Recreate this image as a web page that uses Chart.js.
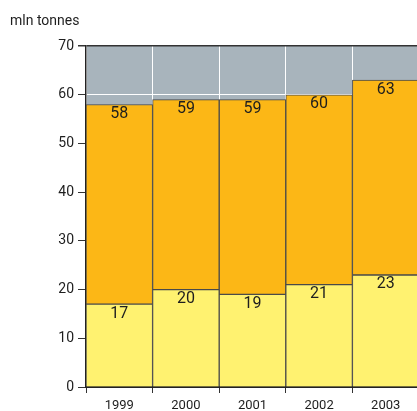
<!DOCTYPE html>
<html>
<head>
<meta charset="utf-8">
<script src="https://cdn.jsdelivr.net/npm/chart.js@4/dist/chart.umd.min.js"></script>
<style>
  html, body { margin: 0; padding: 0; background: #fff; overflow: hidden; }
  #wrap { position: relative; width: 420px; height: 411px; }
</style>
</head>
<body>
<div id="wrap"><canvas id="c" width="420" height="411"></canvas></div>
<script>
// Production, million tonnes
const years = ['1999', '2000', '2001', '2002', '2003'];
const lowerPart = [17, 20, 19, 21, 23];   // lower segment (yellow)
const totals = [58, 59, 59, 60, 63];      // stack total (top of orange segment)
const yTicks = [0, 10, 20, 30, 40, 50, 60, 70];
const unitLabel = 'mln tonnes';

const FONT = 'Roboto, "Open Sans", sans-serif';
const INK = '#1e1e1e';
const EDGE = '#4a4a4a';

// grey plot background
const plotBg = {
  id: 'plotBg',
  beforeDraw(chart) {
    const { ctx, chartArea: a } = chart;
    ctx.save();
    ctx.fillStyle = '#a8b4bc';
    ctx.fillRect(a.left, a.top, a.right - a.left, a.bottom - a.top);
    ctx.restore();
  }
};

// unit caption + value labels just inside the top of each segment
const labels = {
  id: 'labels',
  afterDatasetsDraw(chart) {
    const { ctx } = chart;
    ctx.save();
    ctx.fillStyle = INK;
    ctx.textAlign = 'center';
    ctx.textBaseline = 'alphabetic';
    ctx.font = '16px ' + FONT;
    const sets = [lowerPart, totals];
    sets.forEach((vals, di) => {
      chart.getDatasetMeta(di).data.forEach((bar, i) => {
        ctx.fillText(String(vals[i]), bar.x, bar.y + 13.5);
      });
    });
    ctx.textAlign = 'left';
    ctx.font = '14px ' + FONT;
    ctx.fillText(unitLabel, 10, 25);
    ctx.restore();
  }
};

new Chart(document.getElementById('c'), {
  type: 'bar',
  data: {
    labels: years,
    datasets: [
      {
        data: lowerPart,
        backgroundColor: '#fff270',
        borderColor: EDGE,
        borderWidth: 1,
        borderSkipped: 'start',
        categoryPercentage: 1,
        barPercentage: 1
      },
      {
        data: years.map((_, i) => [lowerPart[i], totals[i]]),
        backgroundColor: '#fcb716',
        borderColor: EDGE,
        borderWidth: 1,
        borderSkipped: false,
        categoryPercentage: 1,
        barPercentage: 1
      }
    ]
  },
  plugins: [plotBg, labels],
  options: {
    responsive: false,
    animation: false,
    layout: { padding: { top: 46, right: 1, left: 0, bottom: 0 } },
    plugins: { legend: { display: false }, tooltip: { enabled: false }, title: { display: false } },
    scales: {
      x: {
        stacked: true,
        grid: {
          offset: true,
          color: '#ffffff',
          lineWidth: 1,
          tickColor: '#333',
          tickLength: 6,
          drawOnChartArea: true
        },
        border: { color: '#222', width: 2 },
        ticks: { color: INK, font: { family: FONT, size: 13 }, padding: 5, maxRotation: 0 },
        afterFit(s) { s.height = 24; }
      },
      y: {
        stacked: false,
        min: 0,
        max: 70,
        afterBuildTicks(s) { s.ticks = yTicks.map(v => ({ value: v })); },
        grid: {
          color: ctx => ctx.tick && ctx.tick.value === 70 ? '#333' : '#ffffff',
          lineWidth: ctx => ctx.tick && ctx.tick.value === 70 ? 1.5 : 1,
          tickColor: '#333',
          tickLength: 8
        },
        border: { color: '#222', width: 1.5 },
        ticks: { color: INK, font: { family: FONT, size: 14 }, padding: 4 },
        afterFit(s) { s.width = 86; }
      }
    }
  }
});
</script>
</body>
</html>
